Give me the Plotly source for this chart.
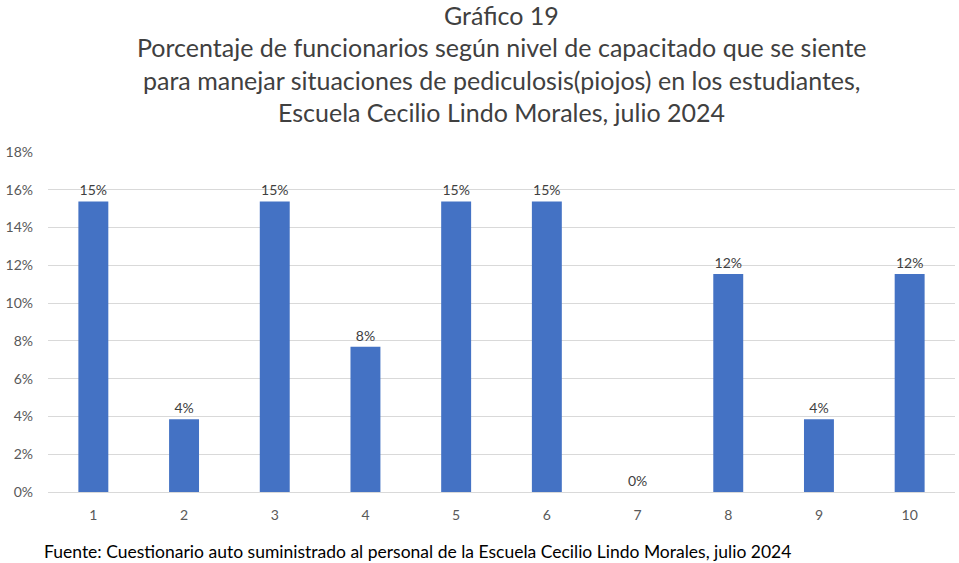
import plotly.graph_objects as go

categories = ["1", "2", "3", "4", "5", "6", "7", "8", "9", "10"]
values = [0.1538, 0.0385, 0.1538, 0.0769, 0.1538, 0.1538, 0.0, 0.1154, 0.0385, 0.1154]
labels = ["15%", "4%", "15%", "8%", "15%", "15%", "0%", "12%", "4%", "12%"]
yticks = [0, 0.02, 0.04, 0.06, 0.08, 0.10, 0.12, 0.14, 0.16, 0.18]
title_lines = [
    "Gráfico 19",
    "Porcentaje de funcionarios según nivel de capacitado que se siente",
    "para manejar situaciones de pediculosis(piojos) en los estudiantes,",
    "Escuela Cecilio Lindo Morales, julio 2024",
]
source = "Fuente: Cuestionario auto suministrado al personal de la Escuela Cecilio Lindo Morales, julio 2024"

FONT = "Lato"

fig = go.Figure(go.Bar(
    x=categories, y=values, text=labels, textposition="outside",
    textfont=dict(size=14, color="#404040", family=FONT),
    marker=dict(color="#4472c4", line=dict(width=0)),
    width=0.33, cliponaxis=False,
))

H = 563
top, bottom = 152, 71
plot_h = H - top - bottom
ys = [15, 47, 80, 112]
annotations = []
for t, yy in zip(title_lines, ys):
    annotations.append(dict(
        text=t, x=0.5, xref="paper", y=(H - bottom - yy) / plot_h, yref="paper",
        showarrow=False, font=dict(size=25, color="#404040", family=FONT),
        xanchor="center", yanchor="middle",
    ))
annotations.append(dict(
    text=source, x=-6 / 907, xref="paper", y=(H - bottom - 551) / plot_h, yref="paper",
    showarrow=False, font=dict(size=17.5, color="#000000", family=FONT),
    xanchor="left", yanchor="middle",
))

fig.update_layout(
    width=959, height=563,
    margin=dict(l=48, r=4, t=top, b=bottom),
    paper_bgcolor="white", plot_bgcolor="white",
    showlegend=False,
    annotations=annotations,
    xaxis=dict(showline=True, linecolor="#d9d9d9", linewidth=1, ticks="",
               ticklabelstandoff=10,
               tickfont=dict(size=14, color="#595959", family=FONT)),
    yaxis=dict(range=[0, 0.18], tickvals=yticks, tickformat=".0%",
               gridcolor="#d9d9d9", gridwidth=1, zeroline=False, ticks="",
               ticklabelstandoff=14,
               tickfont=dict(size=14, color="#595959", family=FONT)),
    bargap=0.67,
)

fig.write_html("out.html")
